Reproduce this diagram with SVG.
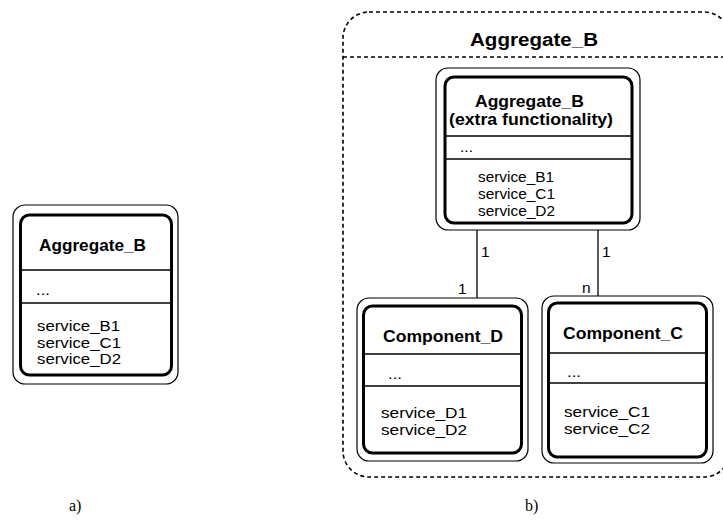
<svg xmlns="http://www.w3.org/2000/svg" width="723" height="521" viewBox="0 0 723 521">
<style>
.outer{fill:none;stroke:#000;stroke-width:1.2}
.inner{fill:none;stroke:#000;stroke-width:3}
.sep{stroke:#000;stroke-width:1.5}
.conn{stroke:#000;stroke-width:1.3;fill:none}
.dash{fill:none;stroke:#000;stroke-width:1.6;stroke-dasharray:4 3}
.t{font-family:"Liberation Sans",Arial,sans-serif;font-size:15.5px;fill:#000}
.s{font-family:"Liberation Sans",Arial,sans-serif;font-size:14.5px;fill:#000}
.b{font-family:"Liberation Sans",Arial,sans-serif;font-size:16.5px;font-weight:bold;fill:#000}
.h{font-family:"Liberation Sans",Arial,sans-serif;font-size:18px;font-weight:bold;fill:#000}
.cap{font-family:"Liberation Serif","Times New Roman",serif;font-size:16px;fill:#000}
</style>
<rect fill="#fff" x="0" y="0" width="723" height="521"/>

<g id="aggregate_b_a">
<rect class="outer" x="13" y="205" width="165" height="179" rx="12"/>
<rect class="inner" x="20.5" y="215" width="151" height="160" rx="9"/>
<line class="sep" x1="20" y1="270" x2="172" y2="270"/>
<line class="sep" x1="20" y1="303" x2="172" y2="303"/>
<text class="b" x="39" y="251" textLength="107" lengthAdjust="spacingAndGlyphs">Aggregate_B</text>
<text class="t" x="36" y="295" textLength="14" lengthAdjust="spacingAndGlyphs">...</text>
<text class="t" x="37" y="331" textLength="83" lengthAdjust="spacingAndGlyphs">service_B1</text>
<text class="t" x="37" y="347.5" textLength="84" lengthAdjust="spacingAndGlyphs">service_C1</text>
<text class="t" x="37" y="364" textLength="84" lengthAdjust="spacingAndGlyphs">service_D2</text>
</g>

<g id="aggregate_b_container">
<rect class="dash" x="343" y="12" width="387" height="465" rx="26"/>
<line class="dash" x1="343" y1="57" x2="730" y2="57"/>
<text class="h" x="470" y="46" textLength="128" lengthAdjust="spacingAndGlyphs">Aggregate_B</text>
</g>

<g id="connectors">
<line class="conn" x1="477" y1="230" x2="477" y2="298"/>
<line class="conn" x1="598" y1="230" x2="598" y2="296"/>
<text class="t" x="481" y="257">1</text>
<text class="t" x="458" y="294">1</text>
<text class="t" x="602" y="257">1</text>
<text class="t" x="582" y="293">n</text>
</g>

<g id="aggregate_b_extra">
<rect class="outer" x="436" y="68" width="204" height="162" rx="12"/>
<rect class="inner" x="445" y="77" width="187" height="146" rx="9"/>
<line class="sep" x1="445" y1="136" x2="632" y2="136"/>
<line class="sep" x1="445" y1="159" x2="632" y2="159"/>
<text class="b" x="475" y="107" textLength="109" lengthAdjust="spacingAndGlyphs">Aggregate_B</text>
<text class="b" x="449" y="125" textLength="164" lengthAdjust="spacingAndGlyphs">(extra functionality)</text>
<text class="s" x="460" y="152" textLength="13" lengthAdjust="spacingAndGlyphs">...</text>
<text class="s" x="478" y="182" textLength="76" lengthAdjust="spacingAndGlyphs">service_B1</text>
<text class="s" x="478" y="198.5" textLength="77" lengthAdjust="spacingAndGlyphs">service_C1</text>
<text class="s" x="478" y="215.5" textLength="77" lengthAdjust="spacingAndGlyphs">service_D2</text>
</g>

<g id="component_d">
<rect class="outer" x="357" y="298" width="171" height="163" rx="12"/>
<rect class="inner" x="363.5" y="306" width="158" height="147" rx="9"/>
<line class="sep" x1="363" y1="354" x2="522" y2="354"/>
<line class="sep" x1="363" y1="386" x2="522" y2="386"/>
<text class="b" x="383" y="341.5" textLength="120" lengthAdjust="spacingAndGlyphs">Component_D</text>
<text class="t" x="388" y="379" textLength="14" lengthAdjust="spacingAndGlyphs">...</text>
<text class="t" x="381" y="418" textLength="86" lengthAdjust="spacingAndGlyphs">service_D1</text>
<text class="t" x="381" y="435" textLength="86" lengthAdjust="spacingAndGlyphs">service_D2</text>
</g>

<g id="component_c">
<rect class="outer" x="542" y="296" width="171" height="167" rx="12"/>
<rect class="inner" x="548.5" y="303" width="158" height="154" rx="9"/>
<line class="sep" x1="548" y1="353" x2="707" y2="353"/>
<line class="sep" x1="548" y1="383" x2="707" y2="383"/>
<text class="b" x="563" y="338.5" textLength="120" lengthAdjust="spacingAndGlyphs">Component_C</text>
<text class="t" x="567" y="377" textLength="14" lengthAdjust="spacingAndGlyphs">...</text>
<text class="t" x="564" y="417" textLength="86" lengthAdjust="spacingAndGlyphs">service_C1</text>
<text class="t" x="564" y="434" textLength="86" lengthAdjust="spacingAndGlyphs">service_C2</text>
</g>

<text class="cap" x="69" y="511">a)</text>
<text class="cap" x="525" y="511">b)</text>
</svg>
